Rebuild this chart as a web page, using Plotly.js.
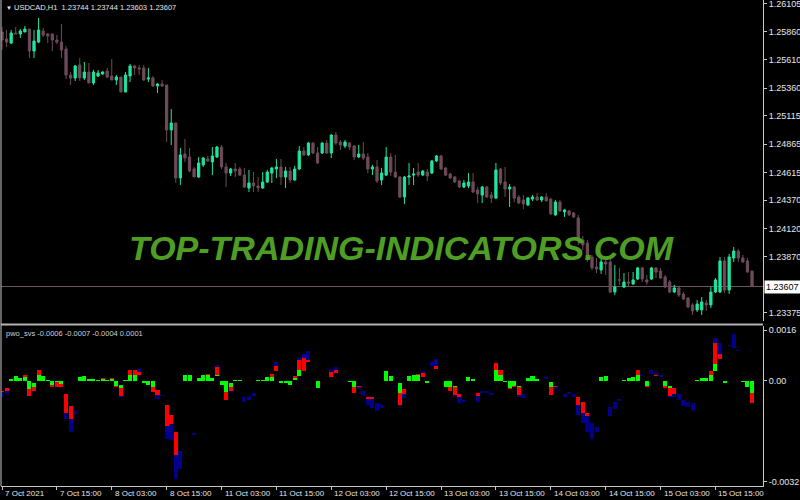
<!DOCTYPE html>
<html>
<head>
<meta charset="utf-8">
<script src="https://cdn.plot.ly/plotly-3.0.1.min.js"></script>
<style>html,body{margin:0;padding:0;background:#000;}#chart{width:800px;height:500px;}</style>
</head>
<body>
<div id="chart"></div>
<script>
// ---- USDCAD H1 candles (bar index 0 = 7 Oct 2021) ----
const openP = [
1.25857,1.25795,1.25759,1.25848,1.25840,1.25857,1.25883,1.25689,1.25768,1.25866,
1.25840,1.25840,1.25786,1.25768,1.25706,1.25477,1.25450,1.25566,1.25450,1.25503,
1.25406,1.25468,1.25486,1.25512,1.25468,1.25433,1.25459,1.25326,1.25468,1.25557,
1.25539,1.25539,1.25441,1.25450,1.25380,1.25398,1.25389,1.24991,1.25053,1.24567,
1.24779,1.24752,1.24646,1.24575,1.24682,1.24735,1.24708,1.24752,1.24840,1.24664,
1.24610,1.24646,1.24646,1.24592,1.24478,1.24522,1.24496,1.24478,1.24531,1.24610,
1.24646,1.24664,1.24575,1.24628,1.24549,1.24646,1.24805,1.24770,1.24875,1.24787,
1.24787,1.24875,1.24787,1.24946,1.24884,1.24849,1.24875,1.24849,1.24752,1.24779,
1.24752,1.24646,1.24664,1.24549,1.24592,1.24752,1.24619,1.24575,1.24398,1.24575,
1.24592,1.24619,1.24592,1.24619,1.24610,1.24717,1.24761,1.24655,1.24601,1.24575,
1.24540,1.24487,1.24496,1.24531,1.24460,1.24416,1.24487,1.24416,1.24389,1.24646,
1.24531,1.24469,1.24487,1.24398,1.24372,1.24328,1.24380,1.24398,1.24372,1.24398,
1.24380,1.24240,1.24354,1.24266,1.24275,1.24257,1.24213,1.24018,1.23991,1.23868,
1.23780,1.23753,1.23824,1.23824,1.23558,1.23665,1.23602,1.23647,1.23629,1.23673,
1.23771,1.23665,1.23673,1.23771,1.23744,1.23691,1.23647,1.23558,1.23594,1.23540,
1.23505,1.23444,1.23400,1.23400,1.23461,1.23444,1.23558,1.23558,1.23833,1.23576,
1.23859,1.23921,1.23859,1.23833,1.23744
];
const highP = [
1.25901,1.25875,1.25875,1.25901,1.25883,1.25910,1.25883,1.25875,1.25981,1.25892,
1.25848,1.25840,1.25831,1.25928,1.25733,1.25503,1.25566,1.25627,1.25592,1.25583,
1.25521,1.25521,1.25512,1.25539,1.25618,1.25477,1.25459,1.25503,1.25574,1.25566,
1.25566,1.25566,1.25539,1.25468,1.25406,1.25433,1.25389,1.25176,1.25053,1.24831,
1.24911,1.24831,1.24664,1.24752,1.24752,1.24761,1.24840,1.24849,1.24858,1.24699,
1.24655,1.24699,1.24664,1.24655,1.24637,1.24619,1.24575,1.24619,1.24637,1.24664,
1.24735,1.24735,1.24664,1.24664,1.24673,1.24849,1.24840,1.24884,1.24884,1.24840,
1.24884,1.24902,1.24955,1.24973,1.24902,1.24902,1.24884,1.24858,1.24858,1.24884,
1.24787,1.24682,1.24726,1.24655,1.24840,1.24787,1.24770,1.24584,1.24584,1.24699,
1.24655,1.24699,1.24637,1.24646,1.24726,1.24770,1.24770,1.24664,1.24610,1.24584,
1.24549,1.24549,1.24610,1.24610,1.24487,1.24496,1.24496,1.24442,1.24699,1.24655,
1.24664,1.24513,1.24496,1.24416,1.24416,1.24398,1.24416,1.24433,1.24407,1.24433,
1.24389,1.24372,1.24372,1.24292,1.24284,1.24266,1.24240,1.24054,1.24018,1.23886,
1.23859,1.23859,1.23859,1.23859,1.23797,1.23771,1.23726,1.23735,1.23735,1.23780,
1.23780,1.23709,1.23780,1.23780,1.23771,1.23709,1.23665,1.23621,1.23602,1.23558,
1.23514,1.23461,1.23488,1.23514,1.23488,1.23602,1.23682,1.23868,1.23868,1.23895,
1.23956,1.23939,1.23886,1.23859,1.23744
];
const lowP = [
1.25698,1.25724,1.25751,1.25840,1.25804,1.25857,1.25627,1.25627,1.25759,1.25813,
1.25759,1.25689,1.25751,1.25627,1.25441,1.25389,1.25424,1.25424,1.25433,1.25406,
1.25389,1.25459,1.25477,1.25450,1.25433,1.25389,1.25326,1.25326,1.25415,1.25477,
1.25477,1.25424,1.25415,1.25371,1.25318,1.25371,1.24884,1.24858,1.24522,1.24504,
1.24708,1.24619,1.24575,1.24567,1.24664,1.24708,1.24592,1.24743,1.24646,1.24487,
1.24584,1.24575,1.24584,1.24478,1.24442,1.24442,1.24442,1.24469,1.24522,1.24522,
1.24567,1.24504,1.24478,1.24522,1.24540,1.24637,1.24761,1.24761,1.24779,1.24690,
1.24779,1.24779,1.24743,1.24858,1.24814,1.24831,1.24814,1.24726,1.24743,1.24726,
1.24610,1.24592,1.24522,1.24504,1.24584,1.24584,1.24567,1.24389,1.24337,1.24504,
1.24504,1.24575,1.24584,1.24540,1.24601,1.24708,1.24637,1.24584,1.24557,1.24522,
1.24478,1.24478,1.24478,1.24433,1.24345,1.24345,1.24389,1.24345,1.24380,1.24504,
1.24398,1.24310,1.24354,1.24337,1.24292,1.24319,1.24363,1.24363,1.24354,1.24363,
1.24240,1.24231,1.24266,1.24222,1.24231,1.24213,1.23974,1.23930,1.23824,1.23753,
1.23726,1.23718,1.23709,1.23549,1.23531,1.23621,1.23594,1.23602,1.23621,1.23665,
1.23647,1.23621,1.23665,1.23682,1.23673,1.23594,1.23549,1.23549,1.23514,1.23488,
1.23417,1.23355,1.23382,1.23355,1.23391,1.23417,1.23549,1.23549,1.23549,1.23541,
1.23824,1.23824,1.23815,1.23726,1.23603
];
const closeP = [
1.25786,1.25768,1.25848,1.25840,1.25866,1.25883,1.25689,1.25777,1.25875,1.25831,
1.25822,1.25786,1.25768,1.25698,1.25477,1.25450,1.25557,1.25450,1.25503,1.25406,
1.25503,1.25494,1.25503,1.25459,1.25433,1.25459,1.25326,1.25477,1.25557,1.25539,
1.25530,1.25433,1.25450,1.25380,1.25398,1.25380,1.24991,1.25053,1.24567,1.24770,
1.24743,1.24628,1.24575,1.24699,1.24743,1.24717,1.24761,1.24840,1.24664,1.24610,
1.24646,1.24628,1.24592,1.24487,1.24522,1.24496,1.24478,1.24531,1.24619,1.24655,
1.24664,1.24575,1.24628,1.24549,1.24646,1.24805,1.24770,1.24875,1.24787,1.24699,
1.24875,1.24787,1.24946,1.24875,1.24858,1.24884,1.24840,1.24752,1.24779,1.24743,
1.24646,1.24664,1.24540,1.24610,1.24752,1.24619,1.24575,1.24398,1.24575,1.24584,
1.24601,1.24592,1.24628,1.24584,1.24717,1.24761,1.24646,1.24592,1.24567,1.24531,
1.24487,1.24522,1.24531,1.24442,1.24425,1.24487,1.24398,1.24389,1.24637,1.24522,
1.24469,1.24487,1.24389,1.24345,1.24337,1.24389,1.24398,1.24372,1.24398,1.24363,
1.24249,1.24354,1.24275,1.24284,1.24240,1.24222,1.24018,1.23974,1.23859,1.23771,
1.23762,1.23824,1.23806,1.23558,1.23602,1.23664,1.23647,1.23638,1.23665,1.23771,
1.23673,1.23647,1.23771,1.23735,1.23682,1.23602,1.23558,1.23594,1.23531,1.23496,
1.23426,1.23391,1.23452,1.23470,1.23444,1.23558,1.23665,1.23833,1.23576,1.23868,
1.23921,1.23859,1.23824,1.23735,1.23607
];

// ---- pwo_svs indicator: segment levels per bar ----
const pwoStart = [
-0.00032,-0.00024,0,0,0,0,0,-0.00007,0,0,
0,0,0,0,-0.00044,-0.00082,-0.00098,0,0,0,
0,0,0,0,0,-0.00003,-0.00014,0,0,0,
0.00018,0,0,0,-0.0003,-0.00046,-0.00079,-0.00109,-0.00162,-0.00222,
0,0,-0.00167,0,0,0,0,0.00014,0,0,
-0.00007,0,0,-0.00051,-0.0005,-0.0004,0,0,0,0,
0.00029,0,0,0,0.00003,0.00013,0.00029,0.0006,0,0,
0,0,0.00011,0.00024,0,0,0,0,-0.00016,-0.00034,
-0.00053,-0.00053,-0.00071,-0.00077,0,0,-0.00018,-0.00009,-0.00026,0,
0,0,0.00011,0,0.00047,0.00037,0,0,0,-0.00016,
-0.00042,-0.00063,0,0,-0.00039,-0.00034,-0.00034,-0.0004,0,0,
0,0,0,-0.00016,-0.00042,0,0,0,0,0.00005,
-0.00005,-0.00016,-0.00029,-0.00044,-0.00037,-0.00042,-0.00053,-0.00067,-0.00103,-0.00134,
-0.00146,0,0,-0.00085,-0.00067,-0.00058,0,0,0,0,
0.00014,0,0.00021,0.00013,0.00011,0,-0.00016,-0.00024,-0.00044,-0.00063,
-0.00067,-0.00072,0,0,0,0,0.0003,0.00069,-0.00002,0.00109,
0.00104,0.00093,0,0,0
];
const pwoGreen = [
-0.00032,-0.00024,0.00005,0.00014,0.00007,0.0001,-0.00026,-0.00019,0.00018,0.00013,
0.00003,-0.00014,-0.00005,-0.0001,-0.00044,-0.00082,-0.00098,0.00011,0.00014,0.00005,
0.00004,0.00003,0.00005,0.00003,0.00005,-0.00016,-0.00023,0.00003,0.00018,0.00018,
0.00018,-0.00007,-0.00014,-0.00021,-0.0003,-0.00046,-0.00079,-0.00109,-0.00162,-0.00222,
0.00016,0.00016,-0.00167,0.00008,0.00019,0.00016,0.00008,0.00018,-0.00014,-0.00035,
-0.00021,0.00003,0.00003,-0.00051,-0.0005,-0.0004,0.00003,0.00003,0.0001,0.00011,
0.00029,-0.00007,-0.00007,-0.00014,0.00007,0.00032,0.00029,0.0006,-0.00002,-0.00024,
-0.00002,0,0.00011,0.00024,-0.00002,-0.00003,-0.00005,-0.00019,-0.00016,-0.00034,
-0.00053,-0.00053,-0.00071,-0.00077,0.00029,0.00014,-0.00018,-0.00039,-0.00026,0.00014,
0.00016,0.00016,0.00011,-0.00007,0.00047,0.00037,-0.00003,-0.00021,-0.00021,-0.00021,
-0.00042,-0.00063,0.00011,0.00005,-0.00039,-0.00034,-0.00034,-0.0004,0.00032,0.00016,
-0.00005,-0.00024,-0.00016,-0.00021,-0.00042,0.00007,0.00013,0.00005,-0.00002,0.00005,
-0.00021,-0.00016,-0.00029,-0.00044,-0.00037,-0.00042,-0.00053,-0.00067,-0.00103,-0.00134,
-0.00146,0.00011,0.00014,-0.00085,-0.00067,-0.00058,0.00002,0.00009,0.00011,0.00019,
0.00014,-0.00016,0.00021,0.00013,0.00011,-0.00016,-0.00024,-0.00024,-0.00044,-0.00063,
-0.00067,-0.00072,0.00002,0.00009,0.00009,0.00016,0.00053,0.00069,-0.00007,0.00109,
0.00104,0.00093,-0.00005,-0.00021,-0.0004
];
const pwoRed = [
-0.00035,-0.00032,0.00005,0.00014,0.00007,0.00018,-0.00048,-0.00034,0.00032,0.00013,
0.00003,-0.00022,-0.0002,-0.00021,-0.00103,-0.00122,-0.00098,0.00011,0.00014,0.00005,
0.00004,0.00003,0.00007,0.00003,0.00007,-0.00022,-0.00048,0.00003,0.00032,0.00032,
0.00026,-0.00007,-0.00014,-0.00035,-0.00045,-0.00046,-0.00145,-0.00137,-0.00235,-0.00222,
0.00016,0.00016,-0.00167,0.00008,0.00019,0.00021,0.00008,0.00042,-0.00014,-0.00061,
-0.00034,0.00003,0.00003,-0.00051,-0.0005,-0.0004,0.00003,0.00003,0.0001,0.00021,
0.00047,-0.00007,-0.00007,-0.00014,0.00014,0.00065,0.00071,0.00065,-0.00002,-0.00024,
-0.00002,0,0.00026,0.00032,-0.00002,-0.00003,-0.00005,-0.0004,-0.00019,-0.00034,
-0.00058,-0.00058,-0.00071,-0.00077,0.00029,0.00014,-0.00018,-0.00079,-0.00042,0.00014,
0.00016,0.00021,0.00023,-0.00007,0.00047,0.00047,-0.00003,-0.00021,-0.00032,-0.00045,
-0.00053,-0.00063,0.00011,0.00005,-0.0005,-0.00034,-0.00034,-0.0004,0.00055,0.00032,
-0.00005,-0.00026,-0.00019,-0.00045,-0.00042,0.00007,0.00013,0.00005,-0.00002,0.00005,
-0.00045,-0.00021,-0.00029,-0.00044,-0.00037,-0.00042,-0.00079,-0.00103,-0.00113,-0.00134,
-0.00146,0.00011,0.00014,-0.00085,-0.00067,-0.00058,0.00002,0.00009,0.00011,0.00032,
0.00014,-0.00019,0.00021,0.00016,0.00011,-0.00024,-0.0005,-0.00042,-0.00044,-0.00063,
-0.00067,-0.00072,0.00002,0.00009,0.00009,0.00029,0.00119,0.00085,-0.00007,0.00109,
0.00104,0.00093,-0.00005,-0.00021,-0.00072
];
const pwoNavy = [
-0.00051,-0.00042,0.00005,0.00014,0.00007,0.00018,-0.00048,-0.00037,0.00032,0.00013,
0.00003,-0.00022,-0.0002,-0.00021,-0.00122,-0.00162,-0.00107,0.00011,0.00014,0.00005,
0.00004,0.00003,0.00007,0.00003,0.00007,-0.00022,-0.00051,0.00003,0.00032,0.00032,
0.00035,-0.00007,-0.00014,-0.00035,-0.00058,-0.0005,-0.00185,-0.0019,-0.00312,-0.0028,
0.00016,0.00016,-0.00172,0.00008,0.00019,0.00021,0.00008,0.00048,-0.00014,-0.00061,
-0.00037,0.00003,0.00003,-0.00069,-0.00061,-0.0005,0.00003,0.00003,0.0001,0.00021,
0.0006,-0.00007,-0.00007,-0.00014,0.00014,0.00071,0.00084,0.00095,-0.00002,-0.00024,
-0.00002,0,0.00035,0.00042,-0.00002,-0.00003,-0.00005,-0.0004,-0.00027,-0.0005,
-0.00079,-0.00087,-0.00098,-0.00088,0.00029,0.00014,-0.00022,-0.00082,-0.00056,0.00014,
0.00016,0.00021,0.00029,-0.00007,0.0006,0.00069,-0.00003,-0.00021,-0.00032,-0.0005,
-0.00071,-0.00069,0.00011,0.00005,-0.00069,-0.0004,-0.00039,-0.00045,0.00055,0.00032,
-0.00005,-0.00026,-0.00019,-0.00051,-0.00056,0.00007,0.00013,0.00005,-0.00002,0.00011,
-0.00045,-0.00026,-0.00034,-0.00051,-0.00044,-0.00051,-0.00109,-0.00134,-0.00162,-0.00185,
-0.00164,0.00011,0.00014,-0.00111,-0.0009,-0.00066,0.00002,0.00009,0.00011,0.00032,
0.00018,-0.00019,0.00032,0.00023,0.00016,-0.00024,-0.00053,-0.00053,-0.00063,-0.00081,
-0.00085,-0.00098,0.00002,0.00009,0.00009,0.00029,0.00135,0.00119,-0.00007,0.00114,
0.00148,0.00098,-0.00005,-0.00021,-0.00072
];

// ---- time axis labels ----
const tickIdx = [0,12,24,36,48,60,72,84,96,108,120,132,144,156];
const tickLabels = ['7 Oct 2021','7 Oct 15:00','8 Oct 03:00','8 Oct 15:00','11 Oct 03:00','11 Oct 15:00',
 '12 Oct 03:00','12 Oct 15:00','13 Oct 03:00','13 Oct 15:00','14 Oct 03:00','14 Oct 15:00','15 Oct 03:00','15 Oct 15:00'];
const priceTicks = [1.26105,1.25860,1.25610,1.25360,1.25115,1.24865,1.24615,1.24370,1.24120,1.23870,1.23375];
const priceTickText = ['1.26105','1.25860','1.25610','1.25360','1.25115','1.24865','1.24615','1.24370','1.24120','1.23870','1.23375'];
const pwoTicks = [0.0016, 0, -0.0032];
const pwoTickText = ['0.0016','0.00','-0.0032'];
const lastPrice = 1.23607;

const idx = openP.map((_, i) => i);
function seg(from, to) {
  const base = [], h = [];
  for (let i = 0; i < from.length; i++) {
    const d = to[i] - from[i];
    if (Math.abs(d) < 1e-8) { base.push(null); h.push(null); }
    else { base.push(from[i]); h.push(d); }
  }
  return {base, h};
}
const gS = seg(pwoStart, pwoGreen), rS = seg(pwoGreen, pwoRed), nS = seg(pwoRed, pwoNavy);
function barTrace(s, color) {
  return {type:'bar', x: idx, y: s.h, base: s.base, xaxis:'x', yaxis:'y2', width:0.88,
    marker:{color: color, line:{width:0}}, hoverinfo:'skip'};
}

const bull = '#1ee6a0', bear = '#6e4b5b';
const traces = [
  {type:'candlestick', x: idx, open: openP, high: highP, low: lowP, close: closeP,
   xaxis:'x', yaxis:'y', whiskerwidth:0, hoverinfo:'skip',
   increasing:{line:{color:bull, width:1}, fillcolor:bull},
   decreasing:{line:{color:bear, width:1}, fillcolor:bear}},
  barTrace(gS, '#00ff00'),
  barTrace(rS, '#ff0000'),
  barTrace(nS, '#00008b')
];

const fontFam = 'Liberation Sans, Arial, sans-serif';
const axisFont = {family:fontFam, size:9, color:'#e6e6e6'};
const timeFont = {family:fontFam, size:8, color:'#e6e6e6'};
const H = 486; // plot height in px
const timeLabels = tickIdx.map((v, k) => ({
  xref:'x', yref:'paper', x:v, y:0, xanchor:'left', yanchor:'top', xshift:1, yshift:-1,
  showarrow:false, text:tickLabels[k], font:timeFont
}));

const layout = {
  width:800, height:500,
  paper_bgcolor:'#000', plot_bgcolor:'#000',
  margin:{l:1, r:37, t:0, b:14},
  showlegend:false,
  barmode:'overlay', bargap:0,
  dragmode:false,
  xaxis:{range:[-0.22,166.4], anchor:'y2', tickvals:tickIdx, showticklabels:false,
    ticks:'outside', ticklen:3, tickcolor:'#c8c8c8', showline:true, linecolor:'#c8c8c8', linewidth:1,
    showgrid:false, zeroline:false, rangeslider:{visible:false}, fixedrange:true},
  yaxis:{domain:[(H-321)/H, 1], range:[1.23302, 1.26140], side:'right', anchor:'x',
    tickvals:priceTicks, ticktext:priceTickText, ticks:'outside', ticklen:3, tickcolor:'#c8c8c8',
    ticklabeloverflow:'allow',
    showline:true, linecolor:'#c8c8c8', linewidth:1, showgrid:false, zeroline:false, tickfont:axisFont, fixedrange:true},
  yaxis2:{domain:[0, (H-326)/H], range:[-0.003344, 0.001728], side:'right', anchor:'x',
    tickvals:pwoTicks, ticktext:pwoTickText, ticks:'outside', ticklen:3, tickcolor:'#c8c8c8',
    ticklabeloverflow:'allow',
    showline:true, linecolor:'#c8c8c8', linewidth:1, showgrid:false, zeroline:false, tickfont:axisFont, fixedrange:true},
  shapes:[
    {type:'line', xref:'paper', yref:'y', x0:0, x1:1, y0:lastPrice, y1:lastPrice, line:{color:'#6e5561', width:1}, layer:'below'},
    {type:'line', xref:'paper', yref:'paper', x0:0, x1:1, y0:(H-324.5)/H, y1:(H-324.5)/H, line:{color:'#b4b4b4', width:2}},
    {type:'line', xref:'paper', yref:'paper', x0:0, x1:0, y0:0, y1:1, line:{color:'#c8c8c8', width:1}}
  ],
  annotations:[
    {xref:'paper', yref:'y', x:1, y:lastPrice, xanchor:'left', yanchor:'middle', xshift:1, showarrow:false,
     text:'1.23607', bgcolor:'#ffffff', borderpad:1, font:{family:fontFam, size:9, color:'#000'}},
    {xref:'paper', yref:'paper', x:0, y:1, xanchor:'left', yanchor:'top', xshift:3, yshift:-1, showarrow:false,
     text:'<span style="font-size:6px">▼</span> USDCAD,H1&nbsp;&nbsp;1.23744 1.23744 1.23603 1.23607',
     font:{family:fontFam, size:7.5, color:'#e6e6e6'}},
    {xref:'paper', yref:'paper', x:0, y:(H-326)/H, xanchor:'left', yanchor:'top', xshift:3, yshift:-1, showarrow:false,
     text:'pwo_svs -0.0006 -0.0007 -0.0004 0.0001',
     font:{family:fontFam, size:7.5, color:'#d0d0d0'}},
    {xref:'paper', yref:'paper', x:(401-1)/762, y:(H-248)/H, xanchor:'center', yanchor:'middle', showarrow:false,
     text:'<b><i>TOP-TRADING-INDICATORS.COM</i></b>',
     font:{family:fontFam, size:34, color:'#4e9e24'}}
  ].concat(timeLabels)
};
Plotly.newPlot('chart', traces, layout, {staticPlot:true, displayModeBar:false});
</script>
</body>
</html>
